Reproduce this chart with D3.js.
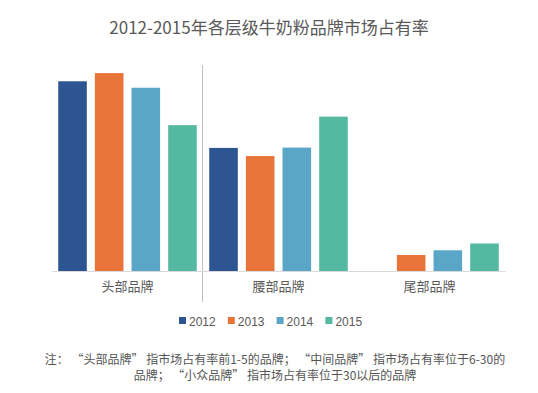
<!DOCTYPE html>
<html>
<head>
<meta charset="utf-8">
<script src="https://cdn.jsdelivr.net/npm/d3@7"></script>
<style>
  body { margin: 0; background: #fff; }
  svg { display: block; font-family: "Noto Sans CJK SC", "Liberation Sans", sans-serif; }
</style>
</head>
<body>
<svg width="538" height="393"></svg>
<script>
"use strict";

const title = "2012-2015年各层级牛奶粉品牌市场占有率";
const categories = ["头部品牌", "腰部品牌", "尾部品牌"];
const years = ["2012", "2013", "2014", "2015"];
// market share by year, one array per tier
const headShare = [55.8, 58.2, 53.9, 42.9];
const midShare = [36.2, 33.8, 36.3, 45.4];
const tailShare = [null, 4.7, 6.1, 8.1];
const colors = ["#2d5591", "#e9743a", "#5aa6c6", "#55b8a0"];
const noteLines = [
  "注： “头部品牌” 指市场占有率前1-5的品牌； “中间品牌” 指市场占有率位于6-30的",
  "品牌； “小众品牌” 指市场占有率位于30以后的品牌"
];

const svg = d3.select("svg");

const series = [headShare, midShare, tailShare];
const data = categories.map((c, i) => ({
  category: c,
  values: years.map((y, j) => ({ year: y, value: series[i][j] }))
}));

const baseY = 271;
const x0 = d3.scaleBand().domain(categories).range([52, 505]);
const x1 = d3
  .scaleBand()
  .domain(years)
  .range([0, x0.bandwidth()])
  .paddingInner(0.22)
  .paddingOuter(0.17);
const y = d3.scaleLinear().domain([0, 60]).range([baseY, baseY - 204]);
const color = d3.scaleOrdinal().domain(years).range(colors);

svg.append("text")
  .attr("x", 269)
  .attr("y", 34)
  .attr("text-anchor", "middle")
  .attr("fill", "#595959")
  .style("font-size", "17px")
  .text(title);

// divider between first and second tier
svg.append("line")
  .attr("x1", x0(categories[1]) - 0.5)
  .attr("x2", x0(categories[1]) - 0.5)
  .attr("y1", 65)
  .attr("y2", 302)
  .attr("stroke", "#bfbfbf")
  .attr("stroke-width", 1);

const groups = svg
  .selectAll("g.group")
  .data(data)
  .enter()
  .append("g")
  .attr("class", "group")
  .attr("transform", d => `translate(${x0(d.category)},0)`);

groups
  .selectAll("rect")
  .data(d => d.values.filter(v => v.value != null))
  .enter()
  .append("rect")
  .attr("x", d => x1(d.year))
  .attr("y", d => y(d.value))
  .attr("width", x1.bandwidth())
  .attr("height", d => baseY - y(d.value))
  .attr("fill", d => color(d.year));

const xAxis = d3.axisBottom(x0).tickSize(0).tickPadding(11);
const xAxisG = svg
  .append("g")
  .attr("transform", `translate(0,${baseY})`)
  .call(xAxis);
xAxisG.select(".domain").attr("stroke", "#d9d9d9");
xAxisG
  .selectAll("text")
  .attr("fill", "#595959")
  .style("font-size", "13px")
  .style("font-family", "'Noto Sans CJK SC', sans-serif");

// legend
const legend = svg
  .append("g")
  .attr("transform", "translate(179,321)");
const legendItems = legend
  .selectAll("g")
  .data(years)
  .enter()
  .append("g")
  .attr("transform", (d, i) => `translate(${i * 48.8},0)`);
legendItems
  .append("rect")
  .attr("x", 0)
  .attr("y", -4)
  .attr("width", 7)
  .attr("height", 7)
  .attr("fill", d => color(d));
legendItems
  .append("text")
  .attr("x", 10)
  .attr("y", 4.5)
  .attr("fill", "#595959")
  .style("font-family", "'Liberation Sans', Arial, sans-serif")
  .style("font-size", "12px")
  .text(d => d);

svg.append("g")
  .selectAll("text")
  .data(noteLines)
  .enter()
  .append("text")
  .attr("x", 275)
  .attr("y", (d, i) => 364 + i * 16)
  .attr("text-anchor", "middle")
  .attr("fill", "#555")
  .style("font-size", "12px")
  .text(d => d);
</script>
</body>
</html>
